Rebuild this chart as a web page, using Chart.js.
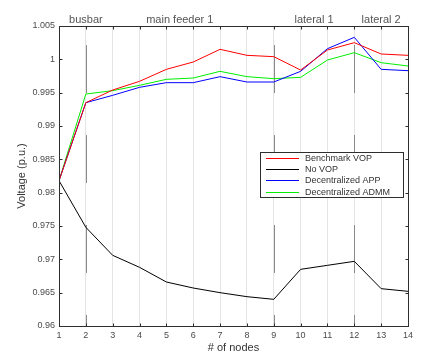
<!DOCTYPE html>
<html>
<head>
<meta charset="utf-8">
<script src="https://cdn.jsdelivr.net/npm/chart.js@4/dist/chart.umd.min.js"></script>
<style>
  html, body { margin: 0; padding: 0; background: #fff; }
  #wrap { width: 439px; height: 360px; }
</style>
</head>
<body>
<div id="wrap"><canvas id="voltage-chart" width="439" height="360"></canvas></div>
<script>
// node voltages
const nodes = [1, 2, 3, 4, 5, 6, 7, 8, 9, 10, 11, 12, 13, 14];
const benchmarkVop = [0.9818, 0.9935, 0.9954, 0.9967, 0.9985, 0.9996, 1.0015, 1.0006, 1.0004, 0.9984, 1.0014, 1.0025, 1.0008, 1.0006];
const noVop = [0.9818, 0.9748, 0.9706, 0.9688, 0.9666, 0.9657, 0.9650, 0.9644, 0.9640, 0.9685, 0.9691, 0.9697, 0.9656, 0.9652];
const decentralizedApp = [0.9818, 0.9935, 0.9946, 0.9958, 0.9965, 0.9965, 0.9974, 0.9966, 0.9966, 0.9982, 1.0016, 1.0033, 0.9985, 0.9983];
const decentralizedAdmm = [0.9818, 0.9948, 0.9953, 0.9961, 0.9970, 0.9972, 0.9982, 0.9974, 0.9971, 0.9973, 0.9999, 1.0010, 0.9995, 0.9990];

const seriesNames = ["Benchmark VOP", "No VOP", "Decentralized APP", "Decentralized ADMM"];
const seriesColors = ["#ff0000", "#000000", "#0000ff", "#00ee00"];

const yMin = 0.96, yMax = 1.005, yStep = 0.005;
const dividers = [2, 9, 12];
const sectionLabels = ["busbar", "main feeder 1", "lateral 1", "lateral 2"];
const sectionCenters = [2, 5.5, 10.5, 13];

const FONT = "'Liberation Sans', Arial, sans-serif";
const TEXT = "#4a4a4a";

const toPoints = vals => nodes.map((n, i) => ({ x: n, y: vals[i] }));
const allSeries = [benchmarkVop, noVop, decentralizedApp, decentralizedAdmm];

// box, inward ticks, section dividers, top labels and legend
const frame = {
  id: "frame",
  beforeDatasetsDraw(chart) {
    const { ctx, chartArea: a, scales: { x } } = chart;
    ctx.save();
    ctx.strokeStyle = "#8a8a8a";
    ctx.lineWidth = 1;
    ctx.setLineDash([48, 42]);
    ctx.lineDashOffset = 37;
    dividers.forEach(d => {
      const px = Math.round(x.getPixelForValue(d)) + 0.5;
      ctx.beginPath();
      ctx.moveTo(px, a.bottom);
      ctx.lineTo(px, a.top);
      ctx.stroke();
    });
    ctx.restore();
  },
  afterDraw(chart) {
    const { ctx, chartArea: a, scales: { x, y } } = chart;
    ctx.save();
    ctx.strokeStyle = "#2e2e2e";
    ctx.lineWidth = 1;
    const L = Math.round(a.left) + 0.5, R = Math.round(a.right) + 0.5;
    const T = Math.round(a.top) + 0.5, B = Math.round(a.bottom) + 0.5;
    ctx.strokeRect(L, T, R - L, B - T);
    ctx.beginPath();
    nodes.forEach(n => {
      const px = Math.round(x.getPixelForValue(n)) + 0.5;
      ctx.moveTo(px, B); ctx.lineTo(px, B - 3);
      ctx.moveTo(px, T); ctx.lineTo(px, T + 3);
    });
    for (let v = yMin; v <= yMax + 1e-9; v += yStep) {
      const py = Math.round(y.getPixelForValue(v)) + 0.5;
      ctx.moveTo(L, py); ctx.lineTo(L + 3, py);
      ctx.moveTo(R, py); ctx.lineTo(R - 3, py);
    }
    ctx.stroke();

    // section names above the axes
    ctx.fillStyle = "#555";
    ctx.font = "11px " + FONT;
    ctx.textAlign = "center";
    ctx.textBaseline = "alphabetic";
    sectionLabels.forEach((s, i) => {
      ctx.fillText(s, x.getPixelForValue(sectionCenters[i]), 23);
    });

    // legend
    const lx = 260.5, ly = 152.5, lw = 143, lh = 45;
    ctx.fillStyle = "#fff";
    ctx.fillRect(lx, ly, lw, lh);
    ctx.strokeStyle = "#2e2e2e";
    ctx.strokeRect(lx, ly, lw, lh);
    ctx.font = "9px " + FONT;
    ctx.textAlign = "left";
    ctx.textBaseline = "middle";
    chart.data.datasets.forEach((ds, i) => {
      const ry = Math.round(ly + 5 + i * 11.4) + 0.5;
      ctx.strokeStyle = ds.borderColor;
      ctx.beginPath();
      ctx.moveTo(266, ry); ctx.lineTo(299, ry);
      ctx.stroke();
      ctx.fillStyle = "#333";
      ctx.fillText(ds.label, 305, ry);
    });
    ctx.restore();
  }
};

const ctx = document.getElementById("voltage-chart").getContext("2d");
new Chart(ctx, {
  type: "line",
  data: {
    datasets: allSeries.map((vals, i) => ({
      label: seriesNames[i],
      data: toPoints(vals),
      borderColor: seriesColors[i],
      backgroundColor: seriesColors[i],
      borderWidth: 1,
      pointRadius: 0,
      tension: 0,
      fill: false
    }))
  },
  options: {
    responsive: false,
    animation: false,
    devicePixelRatio: 1,
    layout: { padding: { top: 26, right: 31, left: 0, bottom: 0 } },
    plugins: { legend: { display: false }, tooltip: { enabled: false } },
    scales: {
      x: {
        type: "linear",
        min: 1,
        max: 14,
        afterFit: s => { s.height = 34; },
        ticks: { stepSize: 1, autoSkip: false, maxRotation: 0, padding: 4, color: TEXT, font: { size: 9, family: FONT } },
        grid: { color: "#e4e4e4", drawTicks: false },
        border: { display: false },
        title: { display: true, text: "# of nodes", color: "#333", font: { size: 11, family: FONT }, padding: { top: 0, bottom: 5 } }
      },
      y: {
        min: yMin,
        max: yMax,
        afterFit: s => { s.width = 59; },
        ticks: { stepSize: yStep, padding: 4, color: TEXT, font: { size: 9, family: FONT }, callback: v => String(+v.toFixed(3)) },
        grid: { display: false, drawTicks: false },
        border: { display: false },
        title: { display: true, text: "Voltage (p.u.)", color: "#333", font: { size: 11, family: FONT }, padding: { top: 15, bottom: 0 } }
      }
    }
  },
  plugins: [frame]
});
</script>
</body>
</html>
